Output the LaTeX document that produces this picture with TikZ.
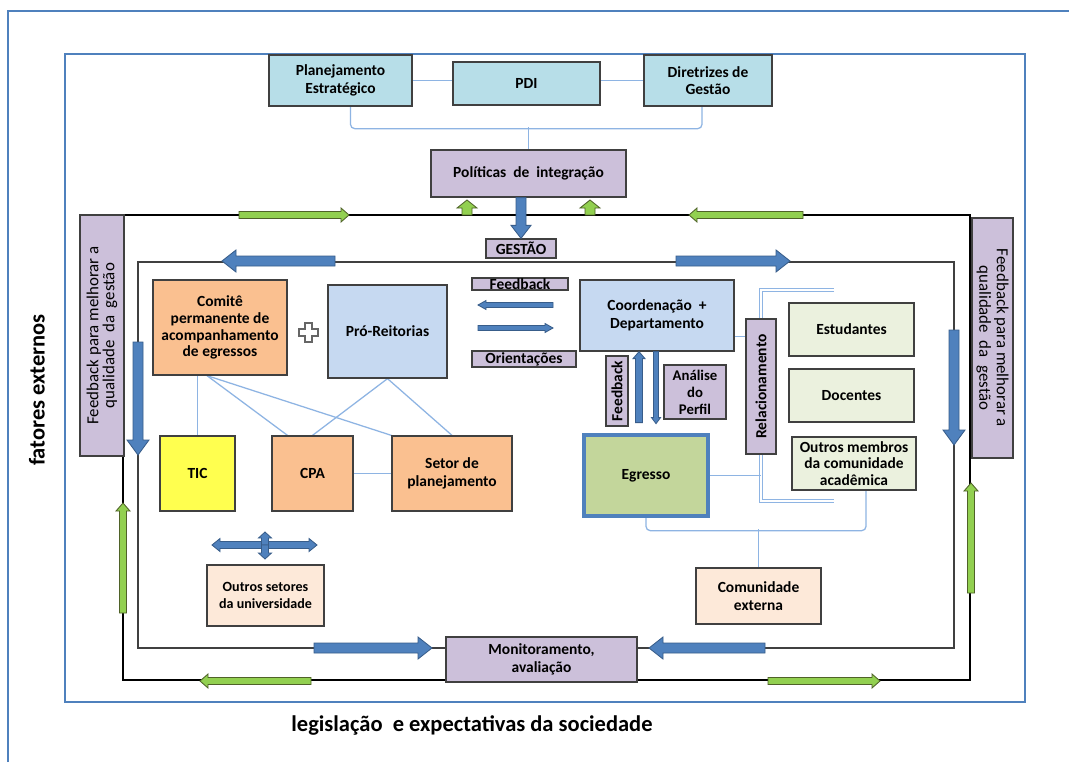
\documentclass[tikz,border=0pt]{standalone}
\usepackage{fontspec}
\setmainfont{Carlito}
\usetikzlibrary{calc,backgrounds}

\definecolor{azulcaixa}{HTML}{B7DEE8}
\definecolor{lilas}{HTML}{CCC0DA}
\definecolor{laranja}{HTML}{FAC090}
\definecolor{azulclaro}{HTML}{C6D9F1}
\definecolor{amarelo}{HTML}{FFFF4F}
\definecolor{pessego}{HTML}{FDE9D9}
\definecolor{verdeclaro}{HTML}{EBF1DE}
\definecolor{verdeegr}{HTML}{C3D69B}
\definecolor{azulseta}{HTML}{4F81BD}
\definecolor{azulborda}{HTML}{385D8A}
\definecolor{verdeseta}{HTML}{92D050}
\definecolor{verdeborda}{HTML}{4F6228}
\definecolor{azullinha}{HTML}{8EB4E3}

% seta larga: estilo, cauda, ponta, meia haste, meia cabeca, comprimento da cabeca (px)
\newcommand{\blockarrow}[6]{%
  \coordinate (ba-t) at (#2);
  \coordinate (ba-h) at (#3);
  \coordinate (ba-n) at ($(ba-h)!#6*0.025cm!(ba-t)$);
  \draw[#1] ($(ba-t)!#4*0.025cm!90:(ba-h)$) -- ($(ba-n)!#4*0.025cm!-90:(ba-t)$)
    -- ($(ba-n)!#5*0.025cm!-90:(ba-t)$) -- (ba-h)
    -- ($(ba-n)!#5*0.025cm!90:(ba-t)$) -- ($(ba-n)!#4*0.025cm!90:(ba-t)$)
    -- ($(ba-t)!#4*0.025cm!-90:(ba-h)$) -- cycle;}

\tikzset{
  caixa/.style={draw=black!75, line width=0.9pt, align=center, inner sep=1pt,
    font=\fontsize{11}{12.5}\selectfont\bfseries},
  tamanho/.style 2 args={minimum width=#1*0.025cm, minimum height=#2*0.025cm},
  ligacao/.style={draw=azullinha, line width=0.9pt},
  setaazul/.style={fill=azulseta, draw=azulborda, line width=0.6pt},
  setaverde/.style={fill=verdeseta, draw=verdeborda, line width=0.6pt},
  moldura/.style={draw=azulseta, line width=1.5pt},
}

\begin{document}
\begin{tikzpicture}[x=0.025cm, y=-0.025cm]
  \useasboundingbox (0,0) rectangle (1069,762);
  \begin{scope}[on background layer]
    \fill[white] (0,0) rectangle (1069,762);
  \end{scope}

  % Molduras
  \draw[moldura] (8,762) -- (8,11) -- (1069,11);
  \draw[moldura] (65,54) rectangle (1025,702);
  \draw[line width=1.5pt] (123,215) rectangle (970,680);
  \draw[black!75, line width=0.8pt] (138,262) rectangle (954,648);

  % Setas das molduras
  \blockarrow{setaverde}{239,215}{349,215}{3.5}{7}{8}
  \blockarrow{setaverde}{803,215}{689,215}{3.5}{7}{8}
  \blockarrow{setaverde}{467,215}{467,200}{5}{10}{8}
  \blockarrow{setaverde}{590,215}{590,200}{5}{10}{8}
  \blockarrow{setaverde}{311,681}{200,681}{3.5}{7}{8}
  \blockarrow{setaverde}{768,681}{880,681}{3.5}{7}{8}
  \blockarrow{setaverde}{123,613}{123,503}{3.5}{7}{8}
  \blockarrow{setaverde}{971,593}{971,483}{3.5}{7}{8}
  \blockarrow{setaazul}{335,261}{222,261}{5}{11}{14}
  \blockarrow{setaazul}{676,261}{790,261}{5}{11}{14}
  \blockarrow{setaazul}{138,342}{138,455}{5}{11}{15}
  \blockarrow{setaazul}{954,330}{954,445}{5}{11}{15}
  \blockarrow{setaazul}{314,648}{432,648}{5}{11}{14}
  \blockarrow{setaazul}{765,648}{649,648}{5}{11}{14}

  % Caixas
  \node[caixa, fill=azulcaixa, tamanho={143}{51}] (plan) at (340.5,80.5) {Planejamento\\Estratégico};
  \node[caixa, fill=azulcaixa, tamanho={147}{43}] (pdi) at (526.5,83.5) {PDI};
  \node[caixa, fill=azulcaixa, tamanho={128}{51}] (diret) at (708,80.5) {Diretrizes de\\Gestão};
  \node[caixa, fill=lilas, tamanho={195}{47}] (polit) at (528.5,173.5) {Políticas \ de \ integração};
  \node[caixa, fill=lilas, tamanho={70}{19}, inner sep=0pt] (gestao) at (521,248.5) {GESTÃO};
  \node[caixa, fill=lilas, rotate=90, tamanho={241}{44}, font=\fontsize{12}{11.5}\selectfont] (fbesq) at (102,335.5) {Feedback para melhorar a\\qualidade \ da \ gestão};
  \node[caixa, fill=lilas, rotate=-90, tamanho={240}{41}, font=\fontsize{12}{12.5}\selectfont] (fbdir) at (992.5,338) {Feedback para melhorar a\\qualidade \ da \ gestão};
  \node[caixa, fill=laranja, tamanho={134}{95}, font=\fontsize{11}{12}\selectfont\bfseries] (comite) at (220,327.5) {Comitê\\permanente de\\acompanhamento\\de egressos};
  \node[caixa, fill=azulclaro, tamanho={119}{93}] (pro) at (387.5,331.5) {Pró-Reitorias};
  \node[caixa, fill=lilas, tamanho={96}{12}, inner sep=0pt] (fbtxt) at (520,284) {Feedback};
  \node[caixa, fill=lilas, tamanho={104}{16}, inner sep=0pt] (orient) at (524,359) {Orientações};
  \node[caixa, fill=amarelo, tamanho={75}{75}] (tic) at (197.5,473.5) {TIC};
  \node[caixa, fill=laranja, tamanho={81}{75}] (cpa) at (312.5,473.5) {CPA};
  \node[caixa, fill=laranja, tamanho={120}{75}] (setor) at (452,473.5) {Setor de\\planejamento};
  \node[caixa, fill=azulclaro, tamanho={154}{71}] (coord) at (657,315.5) {Coordenação \ +\\Departamento};
  \node[caixa, fill=lilas, rotate=90, tamanho={70}{22}, inner sep=0pt] (fbvert) at (617,391) {Feedback};
  \node[caixa, fill=lilas, tamanho={62}{54}, inner sep=0pt, font=\fontsize{10.5}{12}\selectfont\bfseries] (analise) at (695,392) {Análise\\do\\Perfil};
  \node[caixa, fill=verdeegr, draw=azulseta, line width=3pt, tamanho={124}{81}] (egresso) at (646,475.5) {Egresso};
  \node[caixa, fill=lilas, rotate=90, tamanho={135}{30}] (relac) at (761,386.5) {Relacionamento};
  \node[caixa, fill=verdeclaro, tamanho={125}{53}] (estud) at (851.5,329.5) {Estudantes};
  \node[caixa, fill=verdeclaro, tamanho={125}{53}] (docen) at (851.5,395.5) {Docentes};
  \node[caixa, fill=verdeclaro, tamanho={124}{53}, inner sep=0pt, font=\fontsize{11}{12}\selectfont\bfseries] (outros) at (854,463.5) {Outros membros\\da comunidade\\acadêmica};
  \node[caixa, fill=pessego, tamanho={125}{56}] (comun) at (758.5,596) {Comunidade\\externa};
  \node[caixa, fill=pessego, tamanho={117}{61}, font=\fontsize{10}{12}\selectfont\bfseries] (osetores) at (265.5,595.5) {Outros setores\\da universidade};
  \node[caixa, fill=lilas, tamanho={191}{45}] (monit) at (541.5,659.5) {Monitoramento,\\avaliação};

  % Textos externos
  \node[rotate=90, font=\fontsize{16}{18}\selectfont\bfseries] (fatores) at (37,390) {fatores externos};
  \node[font=\fontsize{16}{18}\selectfont\bfseries] (legis) at (472,725) {legislação \ e expectativas da sociedade};

  % Sinal de mais
  \draw[fill=white, draw=black!60, line width=0.8pt] (305,323) -- (312,323) -- (312,329) -- (318,329)
    -- (318,336) -- (312,336) -- (312,342) -- (305,342) -- (305,336) -- (299,336) -- (299,329)
    -- (305,329) -- cycle;

  % Setas internas
  \blockarrow{setaazul}{polit.south -| gestao.north}{gestao.north}{5}{10}{13}
  \blockarrow{setaazul}{553,305}{478,305}{2.5}{4.5}{8}
  \blockarrow{setaazul}{478,328}{553,328}{2.5}{4.5}{8}
  \blockarrow{setaazul}{$(coord.south)+(-18,71)$}{$(coord.south)+(-18,0)$}{3.5}{6}{7}
  \blockarrow{setaazul}{$(coord.south)+(-1,0)$}{$(coord.south)+(-1,72)$}{2.5}{4.5}{6}
  \blockarrow{setaazul}{265,545}{212,545}{3.5}{6.5}{8}
  \blockarrow{setaazul}{265,545}{317,545}{3.5}{6.5}{8}
  \blockarrow{setaazul}{265,545}{265,532}{3.5}{6.5}{6}
  \blockarrow{setaazul}{265,545}{265,559}{3.5}{6.5}{6}

  % Ligacoes
  \begin{scope}[on background layer]
    \draw[ligacao] (plan.east) -- (pdi.west |- plan.east);
    \draw[ligacao] (pdi.east |- diret.west) -- (diret.west);
    \draw[ligacao, rounded corners=3pt] ($(plan.south)+(10,0)$) |- ($(diret.south)+(-6,22)$) -- ($(diret.south)+(-6,0)$);
    \draw[ligacao] (polit.north) -- ++(0,-22);
    \draw[ligacao] (tic.north |- comite.south) -- (tic.north);
    \draw[ligacao] ($(comite.south)+(-13,0)$) -- ($(cpa.north)+(-25,0)$);
    \draw[ligacao] ($(comite.south)+(-13,0)$) -- (setor.north west);
    \draw[ligacao] (pro.south) -- (cpa.north);
    \draw[ligacao] (pro.south) -- (setor.north);
    \draw[ligacao] (cpa.east) -- (setor.west);
    \coordinate (reltopo) at (834,290);
    \coordinate (relbase) at (834,501);
    \draw[ligacao, line width=0.6pt, double=white, double distance=2pt] (reltopo) -| (relac.center |- relbase) -- (relbase);
    \draw[ligacao] ($(coord.east)+(0,21)$) -- ($(relac.center |- coord.east)+(0,21)$);
    \draw[ligacao] (egresso.east) -- (egresso.east -| relac.center);
    \draw[ligacao, rounded corners=3pt] (egresso.south) |- ($(outros.south)+(12,40)$) -- ($(outros.south)+(12,0)$);
    \draw[ligacao] (comun.north) -- ++(0,-38);
  \end{scope}
\end{tikzpicture}
\end{document}
